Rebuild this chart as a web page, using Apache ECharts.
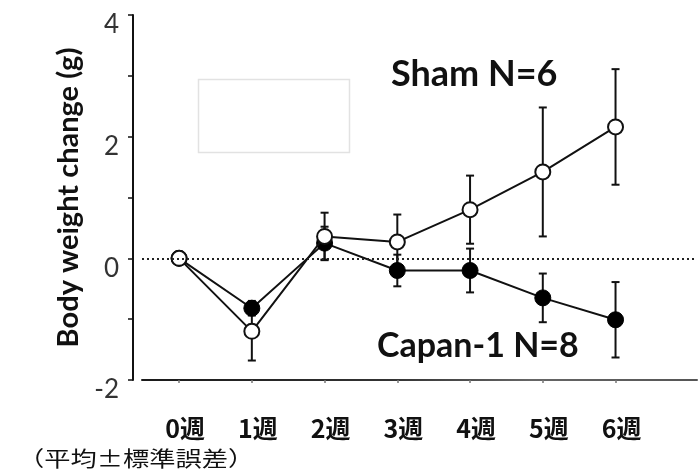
<!DOCTYPE html>
<html>
<head>
<meta charset="utf-8">
<script src="https://cdn.jsdelivr.net/npm/echarts@6/dist/echarts.min.js"></script>
<style>
  html, body { margin: 0; padding: 0; background: #fff; }
  #chart { width: 698px; height: 476px; }
</style>
</head>
<body>
<div id="chart"></div>
<script>
// Weekly body weight change (g), mean ± SEM
const weeks = ['0週', '1週', '2週', '3週', '4週', '5週', '6週'];
const weekIndex = [0, 1, 2, 3, 4, 5, 6];
const shamMean = [0, -1.20, 0.36, 0.27, 0.80, 1.42, 2.16];
const shamSE = [0, 0.48, 0.39, 0.45, 0.56, 1.06, 0.95];
const capanMean = [0, -0.82, 0.25, -0.20, -0.20, -0.65, -1.01];
const capanSE = [0, 0.12, 0.27, 0.26, 0.36, 0.40, 0.62];
const yTicks = [-2, 0, 2, 4];

const latin = 'Lato, "Open Sans", sans-serif';
const cjk = '"Noto Sans CJK JP", sans-serif';

const pairs = (means) => weekIndex.map((i) => [i, means[i]]);
const errRows = (means, ses) => weekIndex.map((i) => [i, means[i], ses[i]]);

function renderErrorBar(params, api) {
  const x = api.value(0), m = api.value(1), se = api.value(2);
  if (!se) return null;
  const top = api.coord([x, m + se]);
  const bot = api.coord([x, m - se]);
  const half = 4;
  const style = { stroke: '#111', lineWidth: 2 };
  return {
    type: 'group',
    children: [
      { type: 'line', shape: { x1: top[0], y1: top[1], x2: bot[0], y2: bot[1] }, style },
      { type: 'line', shape: { x1: top[0] - half, y1: top[1], x2: top[0] + half, y2: top[1] }, style },
      { type: 'line', shape: { x1: bot[0] - half, y1: bot[1], x2: bot[0] + half, y2: bot[1] }, style }
    ]
  };
}

const chart = echarts.init(document.getElementById('chart'), null, { renderer: 'canvas' });

chart.setOption({
  animation: false,
  backgroundColor: '#fff',
  grid: { left: 142, right: 1, top: 15, bottom: 96, containLabel: false },
  xAxis: {
    type: 'value',
    min: -0.51,
    max: 7.12,
    splitLine: { show: false },
    axisLine: {
      onZero: false,
      lineStyle: {
        width: 2,
        color: new echarts.graphic.LinearGradient(0, 0, 1, 0, [
          { offset: 0, color: '#1a1a1a' },
          { offset: 0.45, color: '#333' },
          { offset: 0.7, color: '#666' },
          { offset: 1, color: '#555' }
        ])
      }
    },
    axisTick: { show: true, customValues: weekIndex, length: 3, lineStyle: { color: '#777', width: 1.5 } },
    axisLabel: {
      customValues: weekIndex,
      formatter: (v) => weeks[v],
      margin: 36,
      fontFamily: cjk,
      fontWeight: 'bold',
      fontSize: 25,
      color: '#111',
      padding: [0, 0, 0, 12]
    }
  },
  yAxis: {
    type: 'value',
    min: yTicks[0],
    max: yTicks[yTicks.length - 1],
    interval: 2,
    offset: 9,
    name: 'Body weight change (g)',
    nameLocation: 'middle',
    nameGap: 44,
    nameTextStyle: { fontFamily: latin, fontWeight: 'bold', fontSize: 29, color: '#111' },
    splitLine: { show: false },
    axisLine: { show: true, onZero: false, lineStyle: { color: '#111', width: 2 } },
    axisTick: { show: true, length: 5, lineStyle: { color: '#111', width: 1.5 } },
    minorTick: { show: true, splitNumber: 2, length: 5, lineStyle: { color: '#111', width: 1.5 } },
    axisLabel: {
      margin: 14,
      fontFamily: latin,
      fontSize: 26,
      color: '#333',
      verticalAlign: 'top',
      lineHeight: 20
    }
  },
  series: [
    {
      name: 'Sham SE',
      type: 'custom',
      renderItem: renderErrorBar,
      data: errRows(shamMean, shamSE),
      encode: { x: 0, y: 1 },
      z: 1,
      silent: true
    },
    {
      name: 'Capan-1 SE',
      type: 'custom',
      renderItem: renderErrorBar,
      data: errRows(capanMean, capanSE),
      encode: { x: 0, y: 1 },
      z: 2,
      silent: true
    },
    {
      name: 'Capan-1',
      type: 'line',
      data: pairs(capanMean),
      symbol: 'circle',
      symbolSize: 16,
      lineStyle: { color: '#111', width: 2 },
      itemStyle: { color: '#000', borderColor: '#000', borderWidth: 1 },
      z: 3,
      markLine: {
        silent: true,
        symbol: 'none',
        label: { show: false },
        lineStyle: { type: [2, 3], color: '#222', width: 2 },
        data: [{ yAxis: 0 }]
      }
    },
    {
      name: 'Sham',
      type: 'line',
      data: pairs(shamMean),
      symbol: 'circle',
      symbolSize: 15,
      lineStyle: { color: '#111', width: 2 },
      itemStyle: { color: '#fff', borderColor: '#111', borderWidth: 2 },
      z: 4
    }
  ],
  graphic: [
    {
      type: 'rect',
      left: 196, top: 77,
      shape: { width: 151, height: 73 },
      style: { fill: 'none', stroke: '#e2e2e2', lineWidth: 1.5 },
      silent: true
    },
    {
      type: 'text',
      left: 391, top: 56,
      style: { text: 'Sham N=6', font: 'bold 36px ' + latin, fill: '#111' }
    },
    {
      type: 'text',
      left: 377, top: 329,
      style: { text: 'Capan-1 N=8', font: 'bold 34px ' + latin, fill: '#111' }
    },
    {
      type: 'text',
      x: 18, y: 448,
      scaleX: 1.25,
      style: { text: '（平均±標準誤差）', font: '21px ' + cjk, fill: '#111' }
    }
  ]
});
</script>
</body>
</html>
